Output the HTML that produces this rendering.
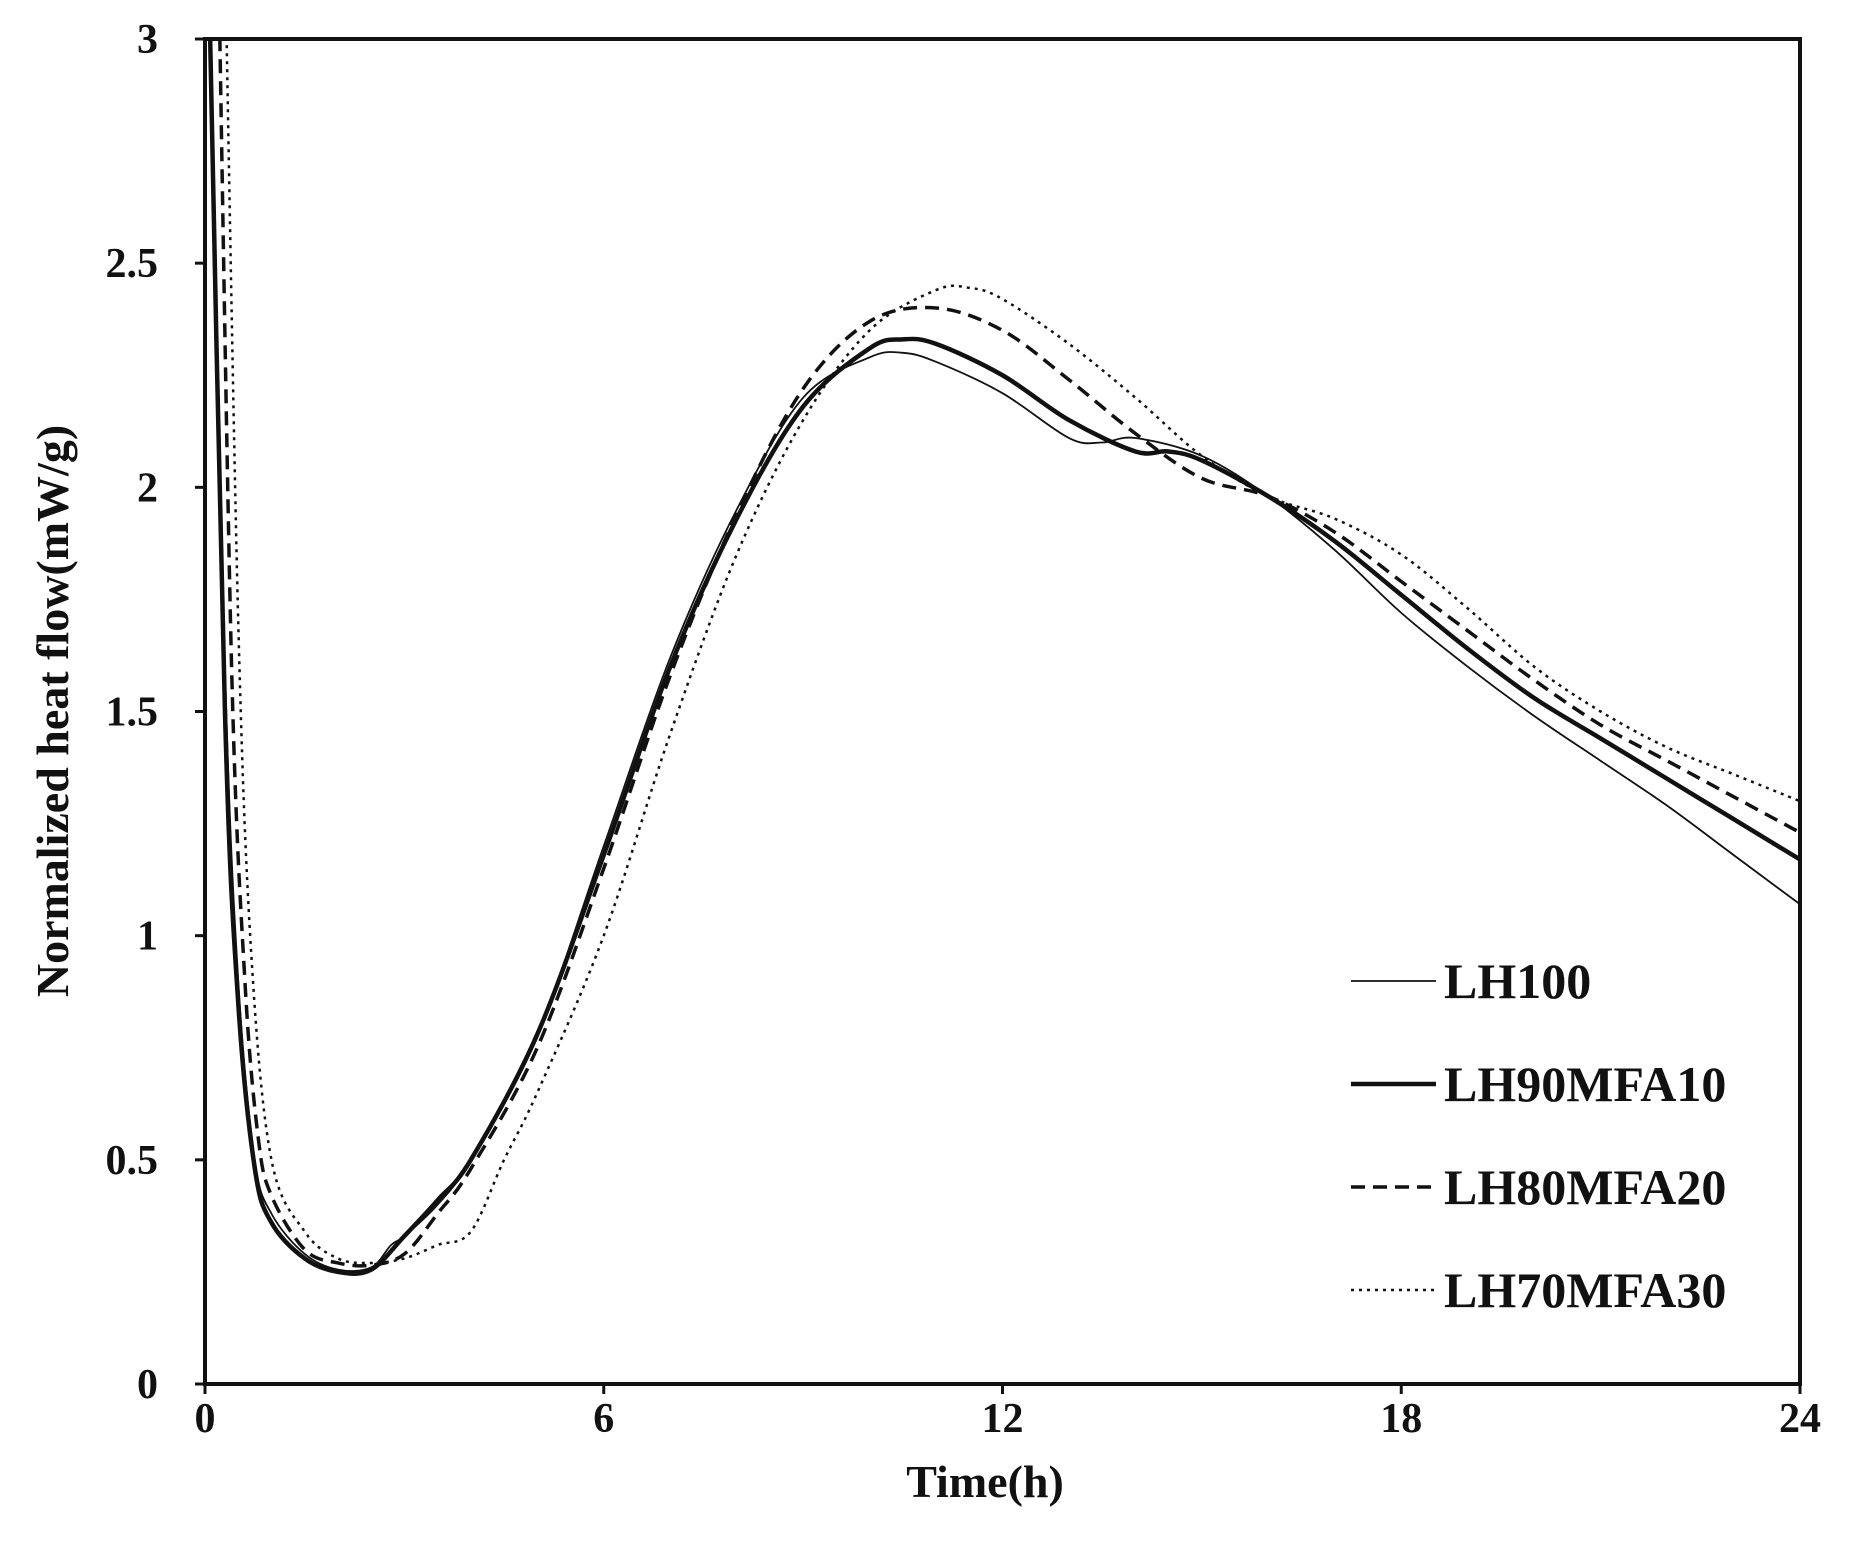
<!DOCTYPE html>
<html><head><meta charset="utf-8"><style>
html,body{margin:0;padding:0;background:#fff}
svg text{font-family:"Liberation Serif",serif;font-weight:bold;fill:#111}
</style></head><body>
<svg id="chart" width="1851" height="1558" viewBox="0 0 1851 1558" xmlns="http://www.w3.org/2000/svg">
<defs><clipPath id="pc"><rect x="205" y="39" width="1595" height="1345"/></clipPath></defs>
<g id="axes"></g>
<g id="series" clip-path="url(#pc)"></g>
<rect x="205" y="39" width="1595" height="1345" fill="none" stroke="#111" stroke-width="4"/>
<text x="985" y="1497" font-size="46" text-anchor="middle">Time(h)</text>
<text x="0" y="0" font-size="46" text-anchor="middle" transform="translate(68,711) rotate(-90)">Normalized heat flow(mW/g)</text>
<g id="legend"></g>
</svg>
<script>
const xTicks=[0,6,12,18,24];
const yTicks=[0,0.5,1,1.5,2,2.5,3];
const yTickLabels=["0","0.5","1","1.5","2","2.5","3"];
const seriesNames=["LH100","LH90MFA10","LH80MFA20","LH70MFA30"];
const tLH100=[0.05,0.3,0.5,0.75,1,1.5,2,2.5,2.8,3,3.5,4,5,6,7,8,9,10,10.5,11,12,13,13.5,14,15,16,17,18,19,20,21,22,23,24];
const vLH100=[3.2,1.6,0.9,0.5,0.38,0.29,0.255,0.26,0.31,0.33,0.4,0.5,0.78,1.2,1.62,1.95,2.2,2.29,2.30,2.28,2.21,2.11,2.10,2.11,2.07,1.98,1.86,1.72,1.6,1.49,1.39,1.29,1.18,1.07];
const tLH90=[0.05,0.3,0.5,0.75,1,1.5,2,2.5,3,3.5,4,5,6,7,8,9,10,10.5,11,12,13,14,14.5,15,16,17,18,19,20,21,22,23,24];
const vLH90=[3.2,1.5,0.85,0.48,0.36,0.28,0.25,0.255,0.33,0.41,0.5,0.78,1.18,1.6,1.93,2.18,2.31,2.33,2.32,2.25,2.15,2.08,2.08,2.06,1.98,1.88,1.76,1.64,1.53,1.44,1.35,1.26,1.17];
const tLH80=[0.2,0.4,0.6,0.8,1,1.5,2,2.5,3,3.5,4,5,6,7,8,9,10,11,12,13,14,15,16,17,18,19,20,21,22,23,24];
const vLH80=[3.2,1.6,0.9,0.55,0.42,0.3,0.27,0.265,0.29,0.38,0.48,0.75,1.15,1.58,1.94,2.22,2.37,2.40,2.35,2.24,2.12,2.02,1.98,1.9,1.79,1.68,1.57,1.47,1.39,1.31,1.23];
const tLH70=[0.3,0.5,0.7,1,1.5,2,2.5,3,3.5,4,4.5,5,6,7,8,9,10,11,11.5,12,13,14,15,16,17,18,19,20,21,22,23,24];
const vLH70=[3.2,1.7,0.95,0.5,0.34,0.28,0.27,0.28,0.31,0.34,0.5,0.65,1.0,1.45,1.85,2.15,2.35,2.44,2.445,2.42,2.32,2.2,2.07,1.98,1.93,1.85,1.73,1.6,1.5,1.42,1.36,1.30];

const X0=205,X1=1800,Y0=1384,Y1=39;
const xs=t=>X0+(t/24)*(X1-X0);
const ys=v=>Y0-(v/3)*(Y0-Y1);
const NS="http://www.w3.org/2000/svg";
const axes=document.getElementById('axes');
xTicks.forEach(t=>{
  const l=document.createElementNS(NS,'line');
  l.setAttribute('x1',xs(t));l.setAttribute('x2',xs(t));l.setAttribute('y1',Y0);l.setAttribute('y2',Y0+10);
  l.setAttribute('stroke','#111');l.setAttribute('stroke-width','3');
  
  
  axes.appendChild(l);
  const tx=document.createElementNS(NS,'text');
  tx.setAttribute('x',xs(t));tx.setAttribute('y',Y0+48);tx.setAttribute('font-size','42');tx.setAttribute('text-anchor','middle');
  tx.textContent=String(t);
  
  
  axes.appendChild(tx);
});
yTicks.forEach((v,i)=>{
  const l=document.createElementNS(NS,'line');
  l.setAttribute('x1',X0-10);l.setAttribute('x2',X0);l.setAttribute('y1',ys(v));l.setAttribute('y2',ys(v));
  l.setAttribute('stroke','#111');l.setAttribute('stroke-width','3');
  
  
  axes.appendChild(l);
  const tx=document.createElementNS(NS,'text');
  tx.setAttribute('x',158);tx.setAttribute('y',ys(v)+14);tx.setAttribute('font-size','42');tx.setAttribute('text-anchor','end');
  tx.textContent=yTickLabels[i];
  
  
  axes.appendChild(tx);
});
function smoothPath(ts,vs){
  const p=ts.map((t,i)=>[xs(t),ys(vs[i])]);
  let d=`M${p[0][0]},${p[0][1]}`;
  for(let i=0;i<p.length-1;i++){
    const a=p[Math.max(0,i-1)],b=p[i],c=p[i+1],e=p[Math.min(p.length-1,i+2)];
    const c1=[b[0]+(c[0]-a[0])/6,b[1]+(c[1]-a[1])/6];
    const c2=[c[0]-(e[0]-b[0])/6,c[1]-(e[1]-b[1])/6];
    d+=`C${c1[0]},${c1[1]} ${c2[0]},${c2[1]} ${c[0]},${c[1]}`;
  }
  return d;
}
const styles=[{w:1.8,da:''},{w:4.5,da:''},{w:3.5,da:'14 8'},{w:2.5,da:'3 5'}];
const data=[[tLH100,vLH100],[tLH90,vLH90],[tLH80,vLH80],[tLH70,vLH70]];
const sg=document.getElementById('series');
data.forEach((s,i)=>{
  const p=document.createElementNS(NS,'path');
  p.setAttribute('d',smoothPath(s[0],s[1]));
  p.setAttribute('fill','none');p.setAttribute('stroke','#111');
  p.setAttribute('stroke-width',styles[i].w);
  if(styles[i].da)p.setAttribute('stroke-dasharray',styles[i].da);
  
  
  sg.appendChild(p);
});
const lg=document.getElementById('legend');
const legY=[981,1084,1187,1290];
seriesNames.forEach((n,i)=>{
  const l=document.createElementNS(NS,'line');
  l.setAttribute('x1',1351);l.setAttribute('x2',1436);l.setAttribute('y1',legY[i]);l.setAttribute('y2',legY[i]);
  l.setAttribute('stroke','#111');l.setAttribute('stroke-width',styles[i].w);
  if(styles[i].da)l.setAttribute('stroke-dasharray',styles[i].da);
  
  
  lg.appendChild(l);
  const tx=document.createElementNS(NS,'text');
  tx.setAttribute('x',1444);tx.setAttribute('y',legY[i]+17);tx.setAttribute('font-size','50');
  tx.textContent=n;
  
  
  lg.appendChild(tx);
});
</script>
</body></html>
